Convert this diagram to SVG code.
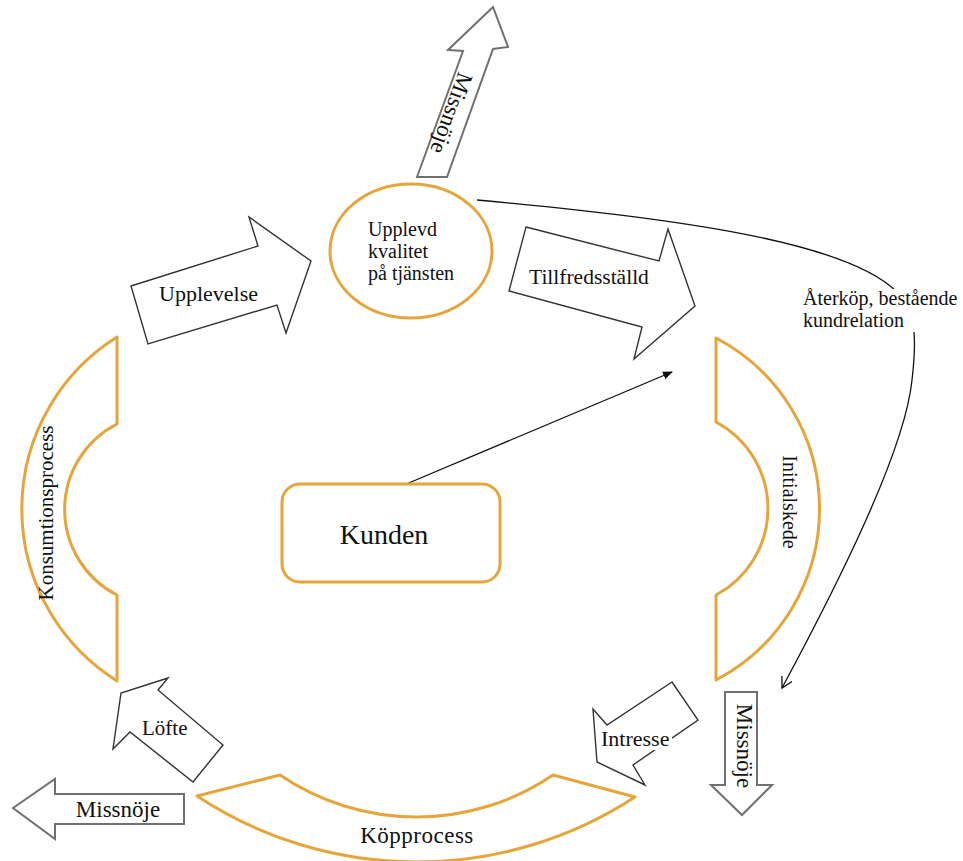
<svg xmlns="http://www.w3.org/2000/svg" width="963" height="861" viewBox="0 0 963 861">
  <style>
    .lbl { font-family: "Liberation Serif", "Times New Roman", serif; font-size: 20px; fill: #111; }
    .stage { fill: #fff; stroke: #E6A53A; stroke-width: 3; stroke-linejoin: round; }
    .flow { fill: #fff; stroke: #333; stroke-width: 1.4; stroke-linejoin: miter; }
    .neg { fill: #fff; stroke: #707070; stroke-width: 2; stroke-linejoin: miter; }
    .conn { fill: none; stroke: #111; stroke-width: 1.3; }
  </style>
  <defs>
    <marker id="openHead" viewBox="0 0 12 12" refX="11" refY="6" markerWidth="12" markerHeight="12" markerUnits="userSpaceOnUse" orient="auto">
      <path d="M0,0 L11,6 L0,12" fill="none" stroke="#111" stroke-width="1.3"/>
    </marker>
    <marker id="solidHead" viewBox="0 0 10 10" refX="9" refY="5" markerWidth="10" markerHeight="10" markerUnits="userSpaceOnUse" orient="auto">
      <path d="M0,1 L10,5 L0,9 Z" fill="#111"/>
    </marker>
  </defs>
  <rect width="963" height="861" fill="#fff"/>

  <!-- connectors -->
  <g id="connectors">
    <path class="conn" d="M477,200 C700,220 850,245 897,292 C918,315 916,345 912,380 C905,450 840,580 782,688" marker-end="url(#openHead)"/>
    <line class="conn" x1="404" y1="485" x2="672" y2="372" marker-end="url(#solidHead)"/>
  </g>

  <!-- label on the repeat-purchase curve -->
  <g id="label-aterkop">
    <rect x="800" y="289" width="160" height="43" fill="#fff"/>
    <text class="lbl" x="803" y="305">Återköp, bestående</text>
    <text class="lbl" x="803" y="327">kundrelation</text>
  </g>

  <!-- service quality -->
  <g id="node-kvalitet">
    <ellipse class="stage" cx="411" cy="251" rx="81" ry="67"/>
    <text class="lbl" x="368" y="236">Upplevd</text>
    <text class="lbl" x="368" y="258">kvalitet</text>
    <text class="lbl" x="368" y="280">på tjänsten</text>
  </g>

  <!-- customer -->
  <g id="node-kunden">
    <rect class="stage" x="282" y="484" width="218" height="98" rx="18"/>
    <text class="lbl" style="font-size:28px" x="384" y="544" text-anchor="middle">Kunden</text>
  </g>

  <!-- process stages -->
  <g id="node-konsumtion">
    <path class="stage" d="M117,337 L117,424 A96,96 0 0 0 117,595 L117,681 A203,203 0 0 1 117,337 Z"/>
    <text class="lbl" style="font-size:21px" transform="translate(46,513) rotate(-90)" x="0" y="7" text-anchor="middle">Konsumtionsprocess</text>
  </g>
  <g id="node-initial">
    <path class="stage" d="M716,338 L716,422 A98,98 0 0 1 716,595 L716,680 A193,193 0 0 0 716,338 Z"/>
    <text class="lbl" transform="translate(790,502) rotate(90)" x="0" y="7" text-anchor="middle">Initialskede</text>
  </g>
  <g id="node-kopprocess">
    <path class="stage" d="M197,796 L280,775 A243,243 0 0 0 553,775 L635,797 A399,399 0 0 1 197,796 Z"/>
    <text class="lbl" style="font-size:23px; letter-spacing:0.5px" x="417" y="843" text-anchor="middle">Köpprocess</text>
  </g>

  <!-- block arrows -->
  <g id="arrow-upplevelse">
    <polygon class="flow" points="131,286 258,246 249,217 311,261 286,333 277,305 148,344"/>
    <text class="lbl" style="font-size:22px" x="159" y="301">Upplevelse</text>
  </g>
  <g id="arrow-tillfreds">
    <polygon class="flow" points="526,227 659,261 668,229 695,306 634,359 642,327 509,291"/>
    <text class="lbl" style="font-size:21.5px" x="529" y="284">Tillfredsställd</text>
  </g>
  <g id="arrow-intresse">
    <polygon class="flow" points="672,682 607,725 593,709 597,762 645,785 633,765 698,720"/>
    <rect x="600" y="729" width="72" height="21" fill="#fff"/>
    <text class="lbl" style="font-size:22px" x="601" y="746">Intresse</text>
  </g>
  <g id="arrow-lofte">
    <polygon class="flow" points="121,693 113,749 130,732 193,782 223,745 158,690 168,678"/>
    <text class="lbl" style="font-size:21px" x="142" y="735">Löfte</text>
  </g>
  <g id="arrow-missnoje-top">
    <polygon class="neg" points="417,177 463,51 448,50 493,7 508,47 493,49 447,177"/>
    <text class="lbl" style="font-size:23px" transform="translate(451,113) rotate(110)" x="0" y="7" text-anchor="middle">Missnöje</text>
  </g>
  <g id="arrow-missnoje-right">
    <polygon class="neg" points="725,692 757,692 757,785 772,785 742,815 711,785 725,785"/>
    <text class="lbl" style="font-size:23px" transform="translate(744,746) rotate(90)" x="0" y="7" text-anchor="middle">Missnöje</text>
  </g>
  <g id="arrow-missnoje-left">
    <polygon class="neg" points="13,808 55,779 55,794 184,794 184,824 55,824 55,839"/>
    <text class="lbl" style="font-size:23px" x="118" y="817" text-anchor="middle">Missnöje</text>
  </g>
</svg>
